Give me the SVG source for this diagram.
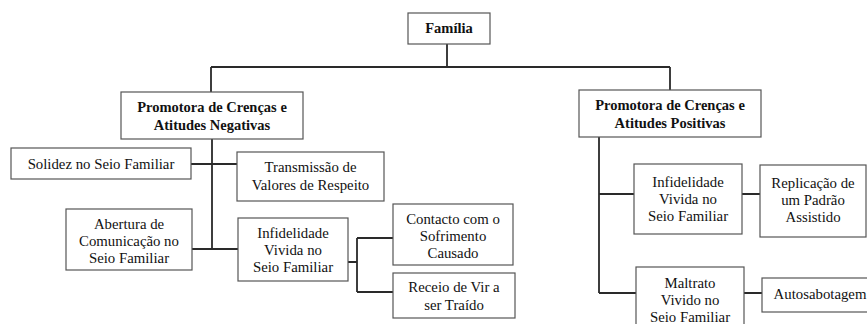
<svg xmlns="http://www.w3.org/2000/svg" width="867" height="324" viewBox="0 0 867 324">
<style>
.bg{fill:#fff}
.box{fill:#fff;stroke:#555;stroke-width:1.2}
.t{font-family:'Liberation Serif','Times New Roman',serif;font-size:14.8px;fill:#111;text-anchor:middle}
.b{font-weight:bold;font-size:14.5px}
.c{fill:none;stroke:#2a2a2a;stroke-width:1.8}
</style>
<rect class="bg" x="0" y="0" width="867" height="324"/>
<g id="connectors">
<path class="c" d="M447,44 V67 M211,67 H670 M211,67 V92 M670,67 V90"/>
<path class="c" d="M212,139 V249 M191,164 H237 M192,249 H238"/>
<path class="c" d="M348,262 H357 M357,238 V292 M357,238 H393 M357,292 H393"/>
<path class="c" d="M599,137 V293 M599,194 H634 M599,293 H636 M742,194 H760 M744,293 H762"/>
</g>
<g id="familia">
<rect class="box" x="408" y="13" width="82" height="31"/>
<text class="t b" x="449" y="33">Família</text>
</g>
<g id="neg">
<rect class="box" x="121" y="92" width="182" height="47"/>
<text class="t b" x="212" y="111.5">Promotora de Crenças e</text>
<text class="t b" x="212" y="129.5">Atitudes Negativas</text>
</g>
<g id="pos">
<rect class="box" x="579" y="90" width="182" height="47"/>
<text class="t b" x="670" y="109.5">Promotora de Crenças e</text>
<text class="t b" x="670" y="127.5">Atitudes Positivas</text>
</g>
<g id="solidez">
<rect class="box" x="11" y="148" width="180" height="31"/>
<text class="t" x="101" y="168.5">Solidez no Seio Familiar</text>
</g>
<g id="transmissao">
<rect class="box" x="237" y="152" width="147" height="49"/>
<text class="t" x="310.5" y="172">Transmissão de</text>
<text class="t" x="310.5" y="190">Valores de Respeito</text>
</g>
<g id="abertura">
<rect class="box" x="66" y="209" width="126" height="61"/>
<text class="t" x="129" y="229">Abertura de</text>
<text class="t" x="129" y="246">Comunicação no</text>
<text class="t" x="129" y="263">Seio Familiar</text>
</g>
<g id="infidelidade-neg">
<rect class="box" x="238" y="218" width="110" height="63"/>
<text class="t" x="293" y="238">Infidelidade</text>
<text class="t" x="293" y="255">Vivida no</text>
<text class="t" x="293" y="272">Seio Familiar</text>
</g>
<g id="contacto">
<rect class="box" x="393" y="204" width="120" height="61"/>
<text class="t" x="453" y="224">Contacto com o</text>
<text class="t" x="453" y="241">Sofrimento</text>
<text class="t" x="453" y="258">Causado</text>
</g>
<g id="receio">
<rect class="box" x="393" y="273" width="122" height="45"/>
<text class="t" x="454" y="292">Receio de Vir a</text>
<text class="t" x="454" y="309.5">ser Traído</text>
</g>
<g id="infidelidade-pos">
<rect class="box" x="634" y="164" width="108" height="70"/>
<text class="t" x="688" y="187">Infidelidade</text>
<text class="t" x="688" y="204">Vivida no</text>
<text class="t" x="688" y="221">Seio Familiar</text>
</g>
<g id="replicacao">
<rect class="box" x="760" y="165" width="106" height="72"/>
<text class="t" x="813" y="188">Replicação de</text>
<text class="t" x="813" y="205">um Padrão</text>
<text class="t" x="813" y="222">Assistido</text>
</g>
<g id="maltrato">
<rect class="box" x="636" y="267" width="108" height="70"/>
<text class="t" x="690" y="288">Maltrato</text>
<text class="t" x="690" y="305">Vivido no</text>
<text class="t" x="690" y="322">Seio Familiar</text>
</g>
<g id="autosabotagem">
<rect class="box" x="762" y="278" width="116" height="34"/>
<text class="t" x="820" y="299">Autosabotagem</text>
</g>
</svg>
